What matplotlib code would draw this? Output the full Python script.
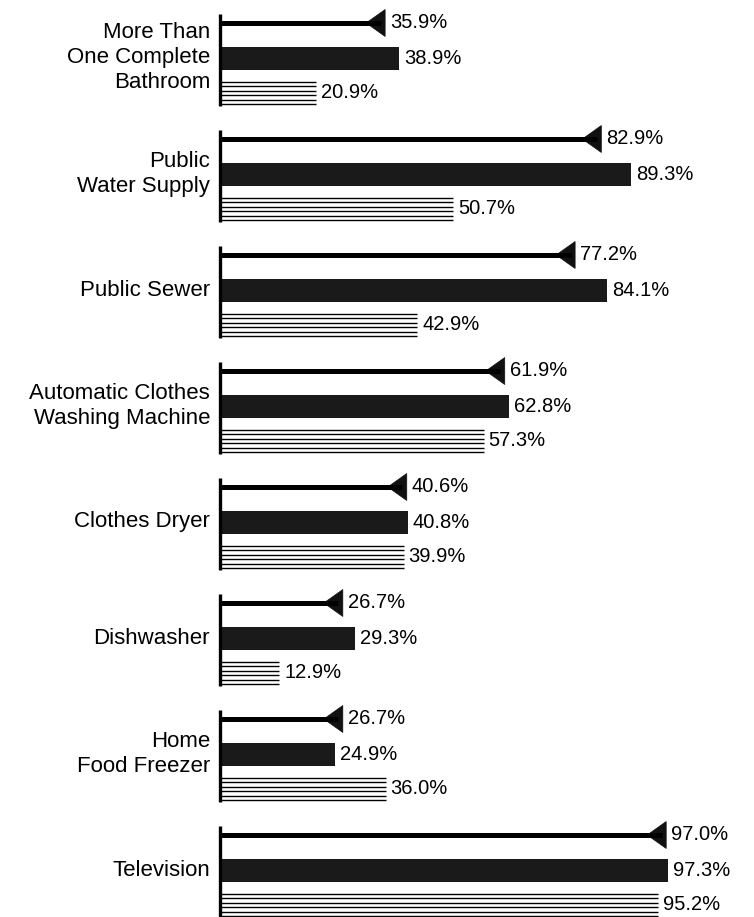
import matplotlib
matplotlib.use("Agg")
import matplotlib.pyplot as plt
from matplotlib.patches import Polygon

categories = ["More Than\nOne Complete\nBathroom", "Public\nWater Supply", "Public Sewer",
              "Automatic Clothes\nWashing Machine", "Clothes Dryer", "Dishwasher",
              "Home\nFood Freezer", "Television"]
series_arrow = [35.9, 82.9, 77.2, 61.9, 40.6, 26.7, 26.7, 97.0]
series_solid = [38.9, 89.3, 84.1, 62.8, 40.8, 29.3, 24.9, 97.3]
series_striped = [20.9, 50.7, 42.9, 57.3, 39.9, 12.9, 36.0, 95.2]

W, H = 754, 917
fig = plt.figure(figsize=(W / 100, H / 100), dpi=100)
ax = fig.add_axes([0, 0, 1, 1])
px_per_pct = 4.6
x0 = 220
ax.set_xlim(-x0 / px_per_pct, (W - x0) / px_per_pct)
ax.set_ylim(H, 0)
ax.axis("off")

font = "Liberation Sans"
lab_fs = 16
val_fs = 14.5
gap = 5 / px_per_pct

for i, cat in enumerate(categories):
    c = 58 + 116 * i
    y_line = c - 35
    y_str = c + 35
    # axis line
    ax.plot([0, 0], [y_line - 9, y_str + 13], color="black", lw=2.4, solid_capstyle="butt")
    # arrow row
    v = series_arrow[i]
    ax.plot([0, v - 1], [y_line, y_line], color="black", lw=3.6, solid_capstyle="butt")
    tri = Polygon([(v, y_line - 13.5), (v, y_line + 13.5), (v - 19 / px_per_pct, y_line)],
                  closed=True, facecolor="#111111", edgecolor="#111111", lw=0.5)
    ax.add_patch(tri)
    ax.text(v + gap, y_line, f"{v:.1f}%", ha="left", va="center", fontsize=val_fs, family=font)
    # solid row
    v = series_solid[i]
    ax.barh(c, v, height=23, left=0, color="#1a1a1a", edgecolor="none")
    ax.text(v + gap, c, f"{v:.1f}%", ha="left", va="center", fontsize=val_fs, family=font)
    # striped row
    v = series_striped[i]
    for k in range(6):
        yy = y_str - 11 + k * 4.4
        ax.plot([0, v], [yy, yy], color="black", lw=1.0, solid_capstyle="butt")
    ax.text(v + gap, y_str, f"{v:.1f}%", ha="left", va="center", fontsize=val_fs, family=font)
    # category label
    ax.text(-10 / px_per_pct, c, cat, ha="right", va="center", fontsize=lab_fs,
            family=font, linespacing=1.25, multialignment="right")

fig.savefig("out.png", dpi=100)
